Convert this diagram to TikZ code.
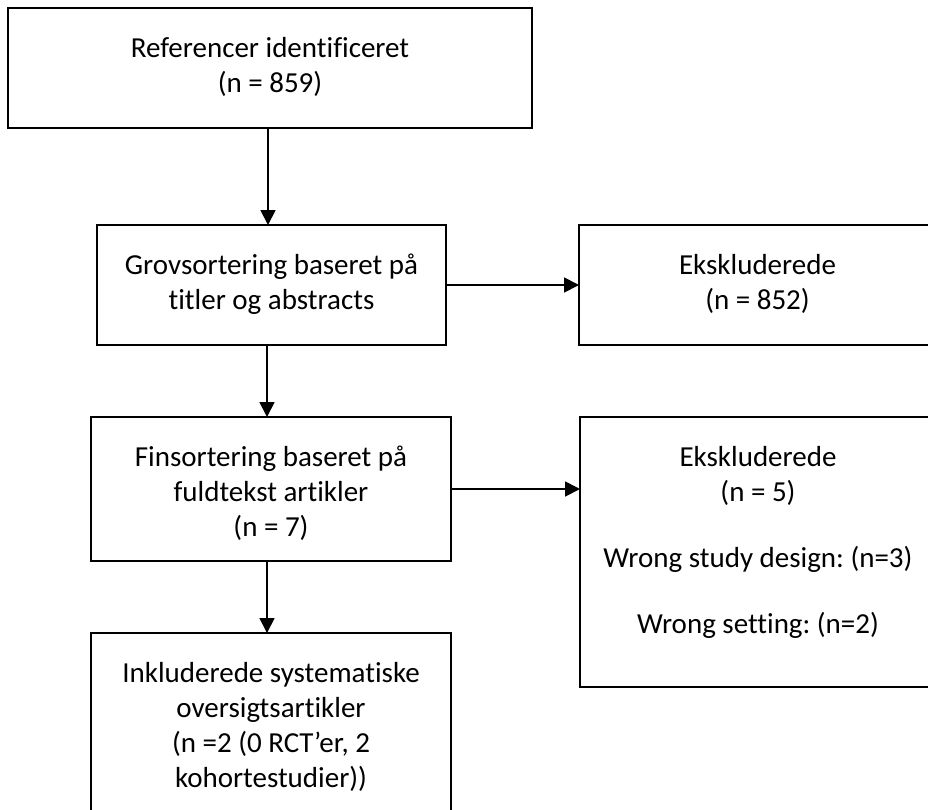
\documentclass[tikz,border=0pt]{standalone}
\usepackage{fontspec}
\setmainfont[Ligatures=NoCommon]{Carlito}
\usetikzlibrary{arrows.meta}
\tikzset{
  box/.style={draw=black, line width=1.8pt, inner sep=0pt, outer sep=0pt, fill=white},
  txt/.style={anchor=north, inner sep=0pt, align=center, font=\fontsize{29}{35}\selectfont\frenchspacing},
  arr/.style={draw=black, line width=1.8pt, -{Triangle[length=15pt,width=15pt]}}
}
\begin{document}
\begin{tikzpicture}[x=1pt,y=-1pt]
\clip (0,0) rectangle (928,809);
\fill[white] (0,0) rectangle (928,809);
% boxes
\node[box, minimum width=524pt, minimum height=120pt] (b1) at (270,68) {};
\node[box, minimum width=349pt, minimum height=120pt] (b2) at (271.5,285) {};
\node[box, minimum width=357pt, minimum height=120pt] (b3) at (757.5,285) {};
\node[box, minimum width=360pt, minimum height=144pt] (b4) at (271,489) {};
\node[box, minimum width=356pt, minimum height=270pt] (b5) at (758,552) {};
\node[box, minimum width=360pt, minimum height=190pt] (b6) at (271,728) {};
% texts
\node[txt] (t1) at (270,33) {\strut Referencer identificeret\\(n = 859)};
\node[txt] (t2) at (271.5,250) {\strut Grovsortering baseret på\\titler og abstracts};
\node[txt] (t3) at (757.5,250) {\strut Ekskluderede\\(n = 852)};
\node[txt] (t4) at (271,442) {\strut Finsortering baseret på\\fuldtekst artikler\\(n = 7)};
\node[txt] (t5) at (758,442) {\strut Ekskluderede\\(n = 5)\\[31pt]Wrong study design: (n=3)\\[31pt]Wrong setting: (n=2)};
\node[txt] (t6) at (271,658) {\strut Inkluderede systematiske\\oversigtsartikler\\(n =2 (0 RCT’er, 2\\kohortestudier))};
% connectors
\coordinate (a1) at ([xshift=-2pt]b1.south);
\draw[arr] (a1) -- (a1 |- b2.north);
\draw[arr] (b2.east) -- (b2.east -| b3.west);
\coordinate (a2) at ([xshift=-4.5pt]b2.south);
\draw[arr] (a2) -- (a2 |- b4.north);
\draw[arr] (b4.east) -- (b4.east -| b5.west);
\coordinate (a3) at ([xshift=-4pt]b4.south);
\draw[arr] (a3) -- (a3 |- b6.north);
\end{tikzpicture}
\end{document}
